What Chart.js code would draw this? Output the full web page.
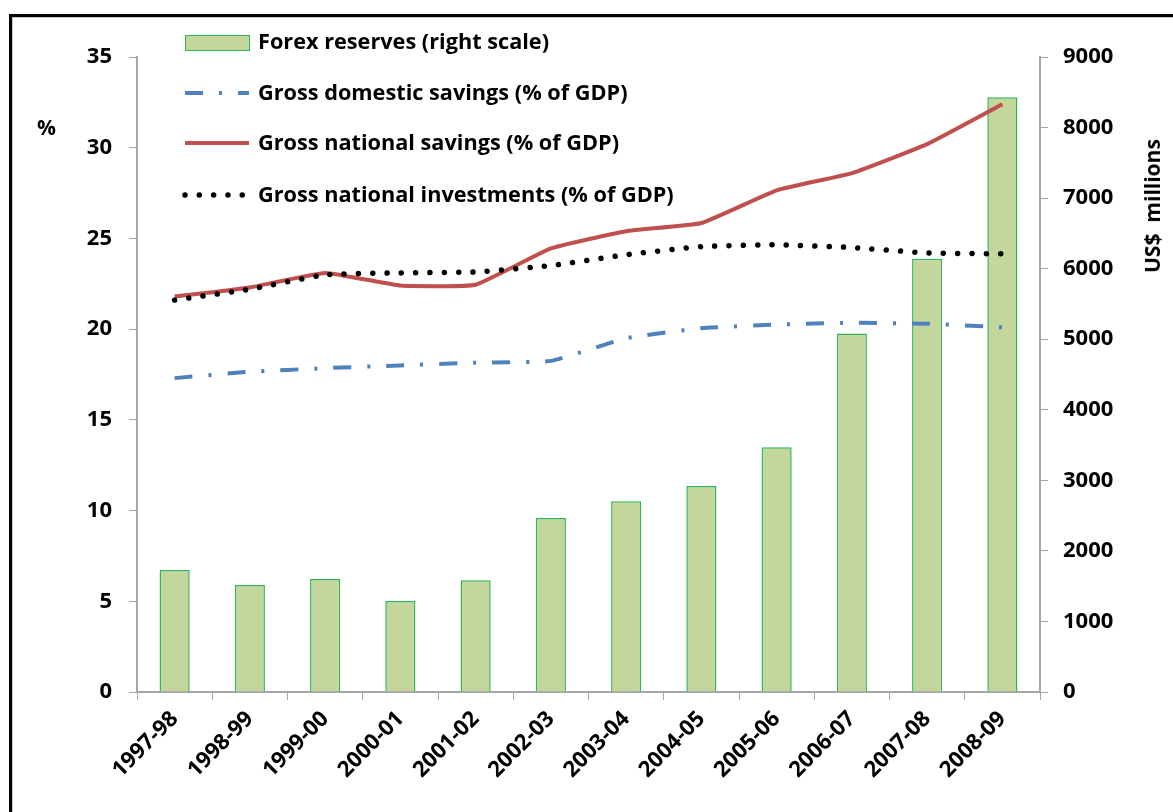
<!DOCTYPE html>
<html lang="en">
<head>
<meta charset="UTF-8">
<title>Savings, investment and forex reserves</title>
<script src="https://cdn.jsdelivr.net/npm/chart.js@4.4.0/dist/chart.umd.min.js"></script>
<style>
    body { margin: 0; background: #fff; }
    #wrap { position: relative; width: 1173px; height: 812px; overflow: hidden; }
    #cadre { position: absolute; left: 9px; top: 14px; width: 1200px; height: 850px;
             border: 3px solid #000; box-shadow: inset 1px 1px 0 #c8c8c8; }
    #myChart { position: absolute; left: 0; top: 0; }
    .txt { position: absolute; font-family: "Open Sans", Lato, sans-serif; font-weight: bold;
           font-size: 21px; color: #000; }
    #pct { left: 37px; top: 113px; }
    #usd { left: 1152px; top: 206px; transform: translate(-50%, -50%) rotate(-90deg); white-space: nowrap; }
</style>
</head>
<body>
<div id="wrap">
    <div id="cadre"></div>
    <canvas id="myChart" width="1173" height="812"></canvas>
    <div class="txt" id="pct">%</div>
    <div class="txt" id="usd">US$&nbsp; millions</div>
</div>

<script>
    // donnees
    const annees = ['1997-98', '1998-99', '1999-00', '2000-01', '2001-02', '2002-03',
                    '2003-04', '2004-05', '2005-06', '2006-07', '2007-08', '2008-09'];
    const reservesForex = [1730, 1515, 1600, 1290, 1585, 2465, 2705, 2920, 3470, 5080, 6140, 8430];
    const epargneDomestique = [17.3, 17.65, 17.85, 18.0, 18.15, 18.25, 19.5, 20.05, 20.25, 20.35, 20.3, 20.1];
    const epargneNationale = [21.8, 22.3, 23.1, 22.4, 22.45, 24.45, 25.4, 25.85, 27.65, 28.6, 30.2, 32.4];
    const investissementNational = [21.6, 22.2, 23.0, 23.1, 23.15, 23.5, 24.1, 24.55, 24.65, 24.5, 24.2, 24.15];
    const ticksGauche = [0, 5, 10, 15, 20, 25, 30, 35];
    const ticksDroite = [0, 1000, 2000, 3000, 4000, 5000, 6000, 7000, 8000, 9000];

    const police = { family: '"Open Sans", Lato, sans-serif', weight: 'bold', size: 22 };
    const gris = '#a6a6a6';

    // legende dessinee dans la zone du graphique
    const legendePlugin = {
        id: 'legendePlugin',
        afterDraw(chart) {
            const ctx = chart.ctx;
            const x0 = 185, x1 = 249, xt = 258;
            const lignes = [42, 93, 143, 195];
            ctx.save();
            ctx.font = 'bold 21.7px "Open Sans", Lato, sans-serif';
            ctx.textBaseline = 'middle';
            ctx.fillStyle = '#000';

            chart.data.datasets.forEach((ds, i) => {
                let y = lignes[i];
                if (ds.type === 'bar') {
                    ctx.fillStyle = ds.backgroundColor;
                    ctx.fillRect(x0, y - 7, x1 - x0, 15);
                    ctx.strokeStyle = ds.borderColor;
                    ctx.lineWidth = 1;
                    ctx.strokeRect(x0 + 0.5, y - 6.5, x1 - x0, 15);
                } else {
                    ctx.beginPath();
                    ctx.strokeStyle = ds.borderColor;
                    ctx.lineWidth = ds.borderWidth;
                    ctx.lineCap = ds.borderCapStyle || 'butt';
                    ctx.setLineDash(ds.borderDash || []);
                    ctx.moveTo(x0, y);
                    ctx.lineTo(x1, y);
                    ctx.stroke();
                    ctx.setLineDash([]);
                }
                ctx.fillStyle = '#000';
                ctx.fillText(ds.label, xt, y + 1);
            });
            ctx.restore();
        }
    };

    const content = document.querySelector('#myChart').getContext('2d');
    const myChart = new Chart(content, {
        data: {
            labels: annees,
            datasets: [{
                type: 'bar',
                label: 'Forex reserves (right scale)',
                data: reservesForex,
                yAxisID: 'y2',
                backgroundColor: '#c3d69b',
                borderColor: '#2fb457',
                borderWidth: 1.5,
                barPercentage: 0.4,
                categoryPercentage: 1,
                order: 5
            }, {
                type: 'line',
                label: 'Gross domestic savings (% of GDP)',
                data: epargneDomestique,
                yAxisID: 'y',
                borderColor: '#4f81bd',
                borderWidth: 4,
                borderDash: [18, 16, 3, 16],
                borderCapStyle: 'butt',
                tension: 0.12,
                pointRadius: 0,
                fill: false,
                order: 3
            }, {
                type: 'line',
                label: 'Gross national savings (% of GDP)',
                data: epargneNationale,
                yAxisID: 'y',
                borderColor: '#c0504d',
                borderWidth: 4,
                tension: 0.12,
                pointRadius: 0,
                fill: false,
                order: 2
            }, {
                type: 'line',
                label: 'Gross national investments (% of GDP)',
                data: investissementNational,
                yAxisID: 'y',
                borderColor: '#000000',
                borderWidth: 5.5,
                borderDash: [0.01, 14.3],
                borderCapStyle: 'round',
                tension: 0.12,
                pointRadius: 0,
                fill: false,
                order: 1
            }]
        },
        options: {
            responsive: false,
            animation: false,
            layout: { padding: { top: 57, left: 0, right: 0, bottom: 0 } },
            plugins: {
                legend: { display: false },
                tooltip: { enabled: false }
            },
            scales: {
                x: {
                    offset: true,
                    grid: { display: true, offset: true, drawOnChartArea: false, drawTicks: true,
                            tickLength: 8, color: gris },
                    border: { color: gris, width: 2 },
                    ticks: { font: police, color: '#000', maxRotation: 45, minRotation: 45,
                             autoSkip: false, padding: 6 },
                    afterFit: s => { s.height = 812 - 692; }
                },
                y: {
                    position: 'left',
                    min: 0, max: 35,
                    afterBuildTicks: s => { s.ticks = ticksGauche.map(v => ({ value: v })); },
                    grid: { display: true, drawOnChartArea: false, drawTicks: true, tickLength: 8, color: gris },
                    border: { color: gris, width: 2 },
                    ticks: { font: police, color: '#000', padding: 17 },
                    afterFit: s => { s.width = 137; }
                },
                y2: {
                    position: 'right',
                    min: 0, max: 9000,
                    afterBuildTicks: s => { s.ticks = ticksDroite.map(v => ({ value: v })); },
                    grid: { display: true, drawOnChartArea: false, drawTicks: true, tickLength: 8, color: gris },
                    border: { color: gris, width: 2 },
                    ticks: { font: police, color: '#000', padding: 15, callback: v => String(v) },
                    afterFit: s => { s.width = 1173 - 1040; }
                }
            }
        },
        plugins: [legendePlugin]
    });
</script>
</body>
</html>
